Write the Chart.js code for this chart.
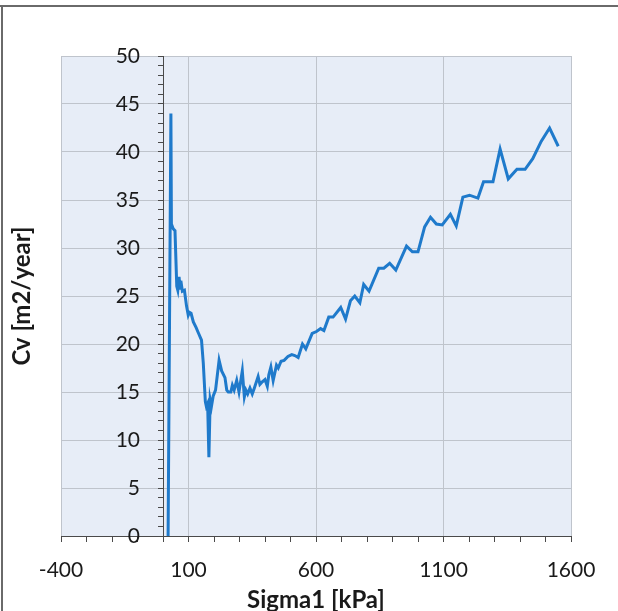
<!DOCTYPE html>
<html>
<head>
<meta charset="utf-8">
<script src="https://cdn.jsdelivr.net/npm/chart.js@4/dist/chart.umd.min.js"></script>
<style>
  body { margin: 0; background: #fff; }
  canvas { display: block; }
</style>
</head>
<body>
<canvas id="graficaCv" width="618" height="611"></canvas>
<script>
// Sigma1 [kPa] vs Cv [m2/year]
const sigma1 = [20, 31, 33, 40, 47, 54, 58, 63, 67, 70, 76, 84, 92, 99, 104, 110, 119, 130, 138, 151,
  158, 166, 170, 175, 180, 185, 190, 197, 206, 220, 230, 243, 250, 256, 266, 272, 279, 289, 298, 311,
  319, 325, 332, 341, 350, 358, 373, 380, 387, 400, 409, 415, 423, 432, 445, 452, 463, 475, 490, 505,
  517, 530, 547, 560, 585, 602, 618, 631, 650, 667, 697, 716, 735, 752, 772, 787, 808, 846, 866, 889,
  913, 955, 978, 1000, 1026, 1049, 1072, 1095, 1127, 1150, 1176, 1202, 1235, 1257, 1294, 1322, 1354,
  1388, 1420, 1450, 1483, 1516, 1550];
const cv = [0, 44, 32.5, 32, 31.8, 26, 25.6, 27, 25.8, 26.6, 25.5, 25.6, 24, 23, 23.3, 23.2, 22.3, 21.7, 21.2, 20.4,
  18, 14, 13.5, 13.8, 8.2, 14.2, 13.5, 14.6, 15.2, 18.3, 17.2, 16.5, 15.2, 15.0, 15.0, 15.7, 15.2, 16.2, 15.0, 17.2,
  14.5, 15.2, 14.8, 15.4, 14.8, 15.4, 16.6, 15.8, 16, 16.3, 15.6, 16.8, 17.6, 16.2, 17.8, 17.5, 18.2, 18.3, 18.7, 18.9,
  18.8, 18.6, 20.0, 19.5, 21.1, 21.3, 21.6, 21.4, 22.8, 22.8, 23.8, 22.6, 24.5, 25.0, 24.3, 26.2, 25.5, 27.9, 27.9, 28.4,
  27.7, 30.2, 29.6, 29.6, 32.2, 33.2, 32.5, 32.4, 33.5, 32.3, 35.3, 35.5, 35.2, 36.9, 36.9, 40.3, 37.2,
  38.2, 38.2, 39.3, 41.1, 42.5, 40.6];

const xMin = -400, xMax = 1600, xStep = 100, xMajor = 500;
const yMin = 0, yMax = 50, yStep = 1, yMajor = 5;
const xTitle = "Sigma1 [kPa]";
const yTitle = "Cv [m2/year]";

const gridColor = "#bfc4cc";
const axisColor = "#4a4a4a";
const fuente = "Lato, 'Open Sans', sans-serif";

const fondoYTitulos = {
  id: "fondoYTitulos",
  beforeDraw(chart) {
    const { ctx, chartArea: a } = chart;
    ctx.save();
    ctx.fillStyle = "#e7edf7";
    ctx.fillRect(a.left, a.top, a.right - a.left, a.bottom - a.top);
    ctx.restore();
  },
  afterDraw(chart) {
    const { ctx } = chart;
    ctx.save();
    ctx.fillStyle = "#1a1a1a";
    ctx.font = "bold 24px " + fuente;
    ctx.textAlign = "center";
    ctx.textBaseline = "middle";
    ctx.fillText(xTitle, 316, 600);
    ctx.translate(22, 296);
    ctx.rotate(-Math.PI / 2);
    ctx.fillText(yTitle, 0, 0);
    ctx.restore();
    // marco del escaneo
    ctx.save();
    ctx.strokeStyle = "#6a6a6a";
    ctx.lineWidth = 2;
    ctx.beginPath();
    ctx.moveTo(0, 6);
    ctx.lineTo(618, 6);
    ctx.moveTo(2, 6);
    ctx.lineTo(2, 611);
    ctx.stroke();
    ctx.restore();
  }
};

new Chart(document.getElementById("graficaCv").getContext("2d"), {
  type: "scatter",
  data: {
    datasets: [{
      label: "Cv",
      data: sigma1.map((s, i) => ({ x: s, y: cv[i] })),
      yAxisID: "y",
      showLine: true,
      borderColor: "#1f7acb",
      borderWidth: 3,
      pointRadius: 0,
      tension: 0
    }]
  },
  options: {
    responsive: false,
    animation: false,
    layout: { padding: { left: 61, right: 47, top: 56, bottom: 75 } },
    plugins: { legend: { display: false }, tooltip: { enabled: false } },
    scales: {
      x: {
        type: "linear",
        position: { y: 0 },
        min: xMin,
        max: xMax,
        grid: {
          color: c => ((c.tick.value - xMin) % xMajor === 0 ? gridColor : "transparent"),
          tickColor: axisColor,
          tickLength: 5
        },
        border: { color: axisColor, width: 1 },
        ticks: {
          stepSize: xStep,
          autoSkip: false,
          maxRotation: 0,
          padding: 17,
          color: "#1a1a1a",
          font: { family: fuente, size: 21 },
          callback: v => ((v - xMin) % xMajor === 0 ? v : "")
        }
      },
      y: {
        type: "linear",
        position: { x: 0 },
        min: yMin,
        max: yMax,
        grid: {
          color: c => (c.tick.value % yMajor === 0 ? gridColor : "transparent"),
          tickColor: axisColor,
          tickLength: 5
        },
        border: { color: axisColor, width: 1 },
        ticks: {
          stepSize: yStep,
          autoSkip: false,
          maxTicksLimit: 100,
          callback: () => ""
        }
      },
      yEtiquetas: {
        type: "linear",
        position: { x: -90 },
        min: yMin,
        max: yMax,
        grid: { display: false, drawOnChartArea: false },
        border: { display: false },
        ticks: {
          stepSize: yMajor,
          color: "#1a1a1a",
          font: { family: fuente, size: 21 }
        }
      }
    }
  },
  plugins: [fondoYTitulos]
});
</script>
</body>
</html>
